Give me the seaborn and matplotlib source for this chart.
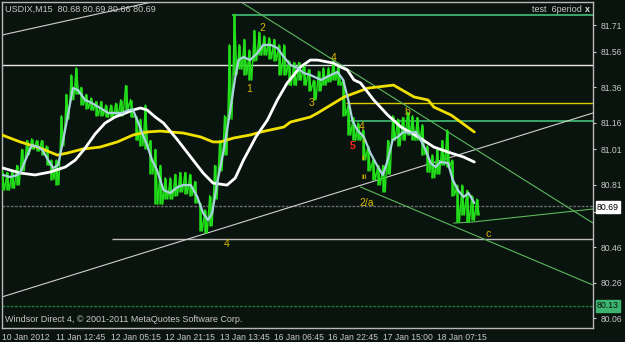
import numpy as np
import pandas as pd
import matplotlib
matplotlib.use("Agg")
import matplotlib.pyplot as plt
import seaborn as sns

# ---------------- data ----------------
BAR_STEP = 6  # price samples every 6 M15 bars
price_high = [80.89, 80.88, 80.89, 80.92, 81.01, 81.06, 81.07, 81.06, 81.06, 81.03,
              80.95, 80.95, 81.20, 81.32, 81.43, 81.47, 81.36, 81.32, 81.30, 81.28,
              81.28, 81.26, 81.26, 81.27, 81.29, 81.37, 81.29, 81.20, 81.18, 81.26,
              81.06, 81.01, 80.92, 80.85, 80.85, 80.87, 80.88, 80.88, 80.87, 80.83,
              80.71, 80.67, 80.75, 80.92, 81.06, 81.20, 81.60, 81.77, 81.60, 81.63,
              81.57, 81.68, 81.67, 81.65, 81.64, 81.63, 81.60, 81.60, 81.51, 81.50,
              81.50, 81.49, 81.46, 81.40, 81.45, 81.47, 81.47, 81.51, 81.49, 81.40,
              81.26, 81.19, 81.16, 81.12, 81.03, 80.95, 80.92, 80.92, 81.06, 81.20,
              81.18, 81.19, 81.22, 81.20, 81.19, 81.15, 81.03, 80.98, 81.01, 81.06,
              81.12, 80.95, 80.81, 80.81, 80.78, 80.75, 80.73]
price_low = [80.78, 80.78, 80.79, 80.81, 80.89, 80.98, 81.01, 81.00, 80.98, 80.92,
             80.84, 80.81, 81.03, 81.18, 81.29, 81.32, 81.26, 81.24, 81.23, 81.20,
             81.20, 81.19, 81.19, 81.20, 81.20, 81.24, 81.19, 81.06, 81.03, 81.01,
             80.87, 80.70, 80.70, 80.73, 80.73, 80.75, 80.77, 80.76, 80.75, 80.71,
             80.55, 80.54, 80.58, 80.73, 80.89, 80.98, 81.18, 81.43, 81.46, 81.43,
             81.40, 81.51, 81.54, 81.54, 81.52, 81.51, 81.43, 81.43, 81.37, 81.37,
             81.40, 81.37, 81.34, 81.29, 81.34, 81.37, 81.39, 81.40, 81.37, 81.20,
             81.09, 81.06, 81.06, 80.95, 80.89, 80.84, 80.81, 80.77, 80.87, 81.06,
             81.03, 81.06, 81.09, 81.06, 81.06, 80.98, 80.88, 80.85, 80.87, 80.92,
             80.91, 80.75, 80.60, 80.64, 80.60, 80.61, 80.64]

fast_ma_bar = [1, 10, 19, 22, 36, 44, 49, 56, 62, 68, 73, 80, 86, 92, 101, 109, 119,
               129, 137, 146, 153, 159, 164, 170, 176, 182, 188, 196, 204, 213, 220,
               229, 237, 244, 250, 255, 261, 269, 277, 283, 287, 293, 301, 310, 317,
               326, 334, 342, 350, 359, 366, 374, 387, 399, 407, 414, 421, 425, 431,
               439, 447, 456, 462, 468, 474, 480, 487, 496, 502, 508, 514, 520, 526,
               532, 541, 547, 553, 560, 566, 573]
fast_ma = [80.866, 80.854, 80.866, 80.877, 81.034, 81.023, 81.006, 80.950, 80.905,
           80.922, 81.034, 81.203, 81.355, 81.344, 81.288, 81.271, 81.243, 81.215,
           81.215, 81.215, 81.232, 81.232, 81.175, 81.102, 81.034, 80.950, 80.894,
           80.781, 80.764, 80.798, 80.809, 80.809, 80.742, 80.652, 80.612, 80.652,
           80.820, 81.006, 81.232, 81.417, 81.513, 81.530, 81.513, 81.553, 81.598,
           81.598, 81.581, 81.530, 81.485, 81.468, 81.440, 81.429, 81.401, 81.429,
           81.446, 81.401, 81.271, 81.175, 81.119, 81.080, 80.989, 80.911, 80.866,
           80.950, 81.063, 81.080, 81.108, 81.102, 81.108, 81.063, 81.006, 80.933,
           80.911, 80.939, 80.933, 80.837, 80.781, 80.742, 80.764, 80.708]

mid_ma_bar = [1, 22, 40, 58, 77, 89, 101, 113, 125, 137, 150, 159, 168, 176, 186,
              196, 213, 229, 244, 256, 273, 283, 293, 308, 322, 334, 346, 362, 374,
              383, 402, 411, 419, 427, 435, 451, 468, 484, 505, 524, 545, 560, 573]
mid_ma = [80.905, 80.877, 80.866, 80.882, 80.911, 80.950, 81.018, 81.097, 81.158,
          81.192, 81.215, 81.232, 81.243, 81.232, 81.192, 81.158, 81.063, 80.967,
          80.877, 80.820, 80.809, 80.849, 80.950, 81.080, 81.175, 81.288, 81.384,
          81.474, 81.513, 81.513, 81.496, 81.474, 81.457, 81.401, 81.384, 81.288,
          81.203, 81.136, 81.080, 81.023, 80.989, 80.967, 80.939]

slow_ma_bar = [0, 22, 46, 67, 79, 98, 119, 140, 159, 176, 192, 220, 241, 256, 265,
               281, 301, 314, 342, 350, 374, 383, 415, 444, 475, 500, 517, 524, 545, 573]
slow_ma = [81.091, 81.052, 81.018, 80.978, 80.989, 81.012, 81.023, 81.052, 81.091,
           81.108, 81.113, 81.102, 81.080, 81.052, 81.052, 81.074, 81.091, 81.108,
           81.136, 81.164, 81.192, 81.215, 81.305, 81.355, 81.372, 81.305, 81.288,
           81.248, 81.203, 81.108]

# horizontal levels
level_prices = [81.485, 81.767, 81.27, 81.17, 80.505, 80.69, 80.13]
level_start = [0, 279, 417, 419, 134, 0, 0]

# trend lines: start bar, start price, end bar, end price
trend_x0 = [0, 0, 292, 435, 548, 571]
trend_y0 = [80.179, 81.654, 81.834, 80.798, 80.595, 80.601]
trend_x1 = [717, 182, 717, 717, 571, 717]
trend_y1 = [81.215, 81.840, 80.595, 80.246, 80.601, 80.674]

wave_text = ["2", "1", "3", "4", "5", "4", "i", "ii", "iii", "2/a", "b", "c", "4"]
wave_bar = [316, 300, 376, 402, 425, 436, 439, 439, 440, 442, 492, 590, 273]
wave_price = [81.693, 81.350, 81.271, 81.524, 81.029, 81.136, 81.057, 80.961,
              80.854, 80.708, 81.220, 80.533, 80.477]

x_tick_bars = [0, 66, 132, 198, 264, 330, 396, 462, 528]
x_tick_labels = ["10 Jan 2012", "11 Jan 12:45", "12 Jan 05:15", "12 Jan 21:15",
                 "13 Jan 13:45", "16 Jan 06:45", "16 Jan 22:45", "17 Jan 15:00",
                 "18 Jan 07:15"]
y_ticks = [81.71, 81.56, 81.36, 81.16, 81.01, 80.81, 80.66, 80.46, 80.26, 80.06]

# ---------------- style ----------------
BG = "#0a140e"
FG = "#c8c8c8"
FONT = ["Liberation Sans", "DejaVu Sans"]
sns.set_style("dark", rc={"axes.facecolor": BG, "figure.facecolor": BG,
                          "axes.edgecolor": "#b8b8b8", "grid.color": BG})
plt.rcParams["font.family"] = FONT

W, H = 625, 342
fig = plt.figure(figsize=(W / 100, H / 100), dpi=100, facecolor=BG)
ax = fig.add_axes([2 / W, 14 / H, 591 / W, 326 / H])
ax.set_facecolor(BG)
ax.set_xlim(0, 717)
ax.set_ylim(80.004, 81.840)

# horizontal levels
lvl_col = ["#e8e8e8", "#3cb36e", "#d8cc00", "#3cb36e", "#bdbdbd", "#6a6a70", "#1f7a3a"]
lvl_lw = [1.0, 1.3, 1.0, 1.3, 1.0, 1.0, 1.0]
lvl_ls = ["-", "-", "-", "-", "-", (0, (2, 1)), (0, (2, 1))]
for p, s, c, lw, ls in zip(level_prices, level_start, lvl_col, lvl_lw, lvl_ls):
    ax.hlines(p, s, 717, colors=c, linewidth=lw, linestyles=ls, zorder=1)

# trend lines
tr_col = ["#d0d0d0", "#d0d0d0", "#5cb85c", "#5cb85c", "#5cb85c", "#5cb85c"]
for x0, y0, x1, y1, c in zip(trend_x0, trend_y0, trend_x1, trend_y1, tr_col):
    ax.plot([x0, x1], [y0, y1], color=c, linewidth=0.8, zorder=2)

# price bars (high-low) plus a high/low zigzag to give the tick noise
bars = np.arange(len(price_high)) * BAR_STEP
ax.vlines(bars, price_low, price_high, colors="#22e01a", linewidth=1.8, zorder=3)
zz_x = np.ravel(np.column_stack([bars, bars + BAR_STEP / 2]))
zz_y = np.ravel(np.column_stack([price_high, price_low]))
ax.plot(zz_x, zz_y, color="#22e01a", linewidth=1.0, zorder=3)

# moving averages via seaborn
df_fast = pd.DataFrame({"bar": fast_ma_bar, "v": fast_ma})
df_mid = pd.DataFrame({"bar": mid_ma_bar, "v": mid_ma})
df_slow = pd.DataFrame({"bar": slow_ma_bar, "v": slow_ma})
sns.lineplot(data=df_slow, x="bar", y="v", ax=ax, color="#f0e000", linewidth=2.0,
             zorder=4)
sns.lineplot(data=df_mid, x="bar", y="v", ax=ax, color="#ffffff", linewidth=2.0,
             zorder=5)
sns.lineplot(data=df_fast, x="bar", y="v", ax=ax, color="#a9d3dd", linewidth=1.6,
             zorder=6)

# wave labels
for t, b, p in zip(wave_text, wave_bar, wave_price):
    col = "#ff2a1a" if t == "5" else "#d9b800"
    fs = 6 if t in ("i", "ii", "iii") else 7.5
    ax.text(b, p, t, color=col, fontsize=fs, ha="center", va="center", zorder=7,
            fontweight="bold" if t == "5" else "normal")

# axes / ticks
ax.set_xlabel("")
ax.set_ylabel("")
ax.grid(False)
ax.yaxis.tick_right()
ax.set_yticks(y_ticks)
ax.set_yticklabels(["" if v == 80.66 else f"{v:.2f}" for v in y_ticks])
ax.set_xticks(x_tick_bars)
ax.set_xticklabels(x_tick_labels)
for lab in ax.get_xticklabels():
    lab.set_ha("left")
ax.tick_params(axis="both", colors=FG, labelsize=6.2, length=2.5, width=0.8,
               direction="out", pad=1)
ax.tick_params(axis="y", right=True, left=False, labelright=True, labelleft=False,
               pad=3)
for sp in ax.spines.values():
    sp.set_color("#b8b8b8")
    sp.set_linewidth(1.0)

# header / footer texts
fig.text(5 / W, 1 - 9 / H, "USDIX,M15  80.68 80.69 80.66 80.69", color=FG,
         fontsize=6.5, va="center", ha="left")
fig.text(582 / W, 1 - 10 / H, "test  6period", color=FG, fontsize=6.5,
         va="center", ha="right")
fig.text(585 / W, 1 - 10 / H, "x", color="#e0e0e0", fontsize=6.5,
         va="center", ha="left", fontweight="bold")
fig.text(5 / W, 1 - 320 / H, "Windsor Direct 4, \u00a9 2001-2011 MetaQuotes Software Corp.",
         color=FG, fontsize=6.5, va="center", ha="left")

# current price boxes
fig.text(597 / W, 1 - 207 / H, "80.69", color="#000000", fontsize=6.3, va="center",
         ha="left", bbox=dict(boxstyle="square,pad=0.15", fc="#ffffff", ec="#ffffff"))
fig.text(597 / W, 1 - 306 / H, "80.13", color="#0a140e", fontsize=6.3, va="center",
         ha="left", bbox=dict(boxstyle="square,pad=0.15", fc="#3cb36e", ec="#3cb36e"))

fig.savefig("out.png", dpi=100, facecolor=BG)
